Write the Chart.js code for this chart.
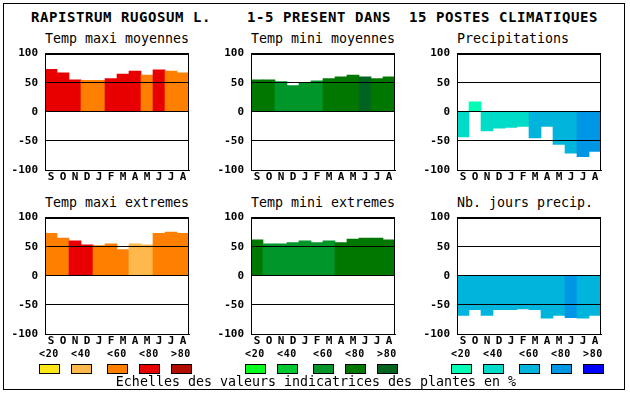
<!DOCTYPE html>
<html lang="fr">
  <head>
    <title>Rapistrum rugosum</title>
    <meta charset="UTF-8" />
    <style>
      body { margin: 0; background: #fff; width: 630px; height: 394px; position: relative; overflow: hidden; }
      .abs { position: absolute; white-space: pre; color: #000; font-family: "DejaVu Sans Mono", monospace; }
      .title { font-size: 14px; font-weight: bold; letter-spacing: 0.57px; line-height: 16px; }
      .ptitle { font-size: 13.3px; line-height: 16px; }
      .lab { font-size: 10px; font-weight: bold; letter-spacing: 0.7px; line-height: 12px; text-align: center; width: 30px; }
      .sw { position: absolute; width: 21px; height: 10px; border: 1px solid #000; box-sizing: border-box; }
      canvas { position: absolute; }
      #frame { position: absolute; left: 3px; top: 3px; width: 622px; height: 387px; border: 1px solid #000; box-sizing: border-box; }
    </style>
  </head>
  <body>
    <div id="frame"></div>
    <div class="abs title" style="left:31px;top:9px">RAPISTRUM RUGOSUM L.    1-5 PRESENT DANS  15 POSTES CLIMATIQUES</div>
    <div id="texts"></div>
    <canvas id="c1" width="193" height="148"></canvas>
    <canvas id="c2" width="193" height="148"></canvas>
    <canvas id="c3" width="193" height="148"></canvas>
    <canvas id="c4" width="193" height="148"></canvas>
    <canvas id="c5" width="193" height="148"></canvas>
    <canvas id="c6" width="193" height="148"></canvas>
    <div id="legend"></div>

    <script src="https://cdn.jsdelivr.net/npm/chart.js@4"></script>
    <script>
      // mois et valeurs
      var months = ["S", "O", "N", "D", "J", "F", "M", "A", "M", "J", "J", "A"];
      var yTicks = [-100, -50, 0, 50, 100];
      var classLabels = ["<20", "<40", "<60", "<80", ">80"];

      var maxMoyVals = [73, 67, 55, 54, 54, 57, 65, 70, 63, 72, 70, 67];
      var maxMoyCls = [3, 3, 3, 2, 2, 3, 3, 3, 2, 3, 2, 2];
      var minMoyVals = [55, 55, 52, 45, 49, 53, 57, 60, 63, 60, 57, 60];
      var minMoyCls = [3, 3, 2, 2, 2, 2, 3, 3, 3, 4, 3, 3];
      var precVals = [-43, 17, -33, -28, -27, -25, -45, -25, -56, -71, -77, -68];
      var precCls = [1, 0, 1, 1, 1, 1, 2, 2, 2, 2, 3, 3];
      var maxExtVals = [73, 65, 60, 53, 52, 55, 45, 55, 53, 73, 75, 73];
      var maxExtCls = [2, 2, 3, 3, 2, 2, 2, 1, 1, 2, 2, 2];
      var minExtVals = [62, 55, 55, 57, 60, 57, 60, 57, 63, 65, 65, 62];
      var minExtCls = [3, 2, 2, 2, 2, 2, 2, 3, 3, 3, 3, 3];
      var joursVals = [-68, -58, -68, -58, -58, -57, -58, -73, -68, -72, -73, -68];
      var joursCls = [2, 2, 2, 2, 2, 2, 2, 2, 2, 3, 2, 2];

      var tmaxPal = ["#ffe619", "#ffb84c", "#ff8000", "#e80000", "#b00c00"];
      var tminPal = ["#00ff1e", "#00c832", "#00962a", "#007800", "#006420"];
      var precPal = ["#00ffb4", "#00dcc8", "#00b4dc", "#0096e6", "#0000ff"];

      var panels = [
        { id: "c1", x: 45, y: 50, title: "Temp maxi moyennes", vals: maxMoyVals, cls: maxMoyCls, pal: tmaxPal },
        { id: "c2", x: 251, y: 50, title: "Temp mini moyennes", vals: minMoyVals, cls: minMoyCls, pal: tminPal },
        { id: "c3", x: 457, y: 50, title: "Precipitations", vals: precVals, cls: precCls, pal: precPal },
        { id: "c4", x: 45, y: 214, title: "Temp maxi extremes", vals: maxExtVals, cls: maxExtCls, pal: tmaxPal },
        { id: "c5", x: 251, y: 214, title: "Temp mini extremes", vals: minExtVals, cls: minExtCls, pal: tminPal },
        { id: "c6", x: 457, y: 214, title: "Nb. jours precip.", vals: joursVals, cls: joursCls, pal: precPal },
      ];

      // cadre autour de la zone du graphe
      var boxPlugin = {
        id: "box",
        afterDraw: function (chart) {
          var a = chart.chartArea;
          var ctx = chart.ctx;
          ctx.save();
          ctx.strokeStyle = "#000";
          ctx.lineWidth = 1;
          ctx.strokeRect(Math.round(a.left) + 0.5, Math.round(a.top) + 0.5, Math.round(a.right - a.left) - 1, Math.round(a.bottom - a.top));
          ctx.restore();
        },
      };

      var tickFont = { family: "DejaVu Sans Mono", size: 11, weight: "bold" };
      var texts = document.getElementById("texts");

      panels.forEach(function (p) {
        var cv = document.getElementById(p.id);
        cv.style.left = p.x - 45 + "px";
        cv.style.top = p.y - 10 + "px";

        var t = document.createElement("div");
        t.className = "abs ptitle";
        t.style.left = p.x + "px";
        t.style.top = p.y - 19 + "px";
        t.textContent = p.title;
        texts.appendChild(t);

        new Chart(cv, {
          type: "bar",
          data: {
            labels: months,
            datasets: [
              {
                data: p.vals,
                backgroundColor: p.cls.map(function (c) { return p.pal[c]; }),
                borderWidth: 0,
                barPercentage: 1,
                categoryPercentage: 1,
              },
            ],
          },
          options: {
            responsive: false,
            animation: false,
            devicePixelRatio: 1,
            layout: { padding: { top: 10, right: 4, left: 0, bottom: 0 } },
            plugins: { legend: { display: false }, tooltip: { enabled: false } },
            scales: {
              y: {
                min: -100,
                max: 100,
                afterFit: function (s) { s.width = 45; },
                afterBuildTicks: function (s) { s.ticks = yTicks.map(function (v) { return { value: v }; }); },
                ticks: { font: tickFont, color: "#000", padding: 7 },
                grid: { color: "#000", lineWidth: 1, drawTicks: false, z: 1 },
                border: { display: true, color: "#000", z: 1 },
              },
              x: {
                afterFit: function (s) { s.height = 18; },
                ticks: { font: tickFont, color: "#000", padding: 1, maxRotation: 0, autoSkip: false },
                grid: { display: false, drawTicks: false },
                border: { display: true, color: "#000", z: 1 },
              },
            },
          },
          plugins: [boxPlugin],
        });
      });

      // echelles en bas
      var legend = document.getElementById("legend");
      var groups = [
        { pal: tmaxPal, xs: [39, 71, 107, 139, 171] },
        { pal: tminPal, xs: [245, 277, 313, 345, 377] },
        { pal: precPal, xs: [451, 483, 519, 551, 583] },
      ];
      groups.forEach(function (g) {
        g.xs.forEach(function (x, i) {
          var l = document.createElement("div");
          l.className = "abs lab";
          l.style.left = x - 5 + "px";
          l.style.top = 348 + "px";
          l.textContent = classLabels[i];
          legend.appendChild(l);
          var s = document.createElement("div");
          s.className = "sw";
          s.style.left = x + "px";
          s.style.top = "364px";
          s.style.background = g.pal[i];
          legend.appendChild(s);
        });
      });
      var foot = document.createElement("div");
      foot.className = "abs ptitle";
      foot.style.left = "0px";
      foot.style.width = "632px";
      foot.style.textAlign = "center";
      foot.style.top = "374px";
      foot.textContent = "Echelles des valeurs indicatrices des plantes en %";
      legend.appendChild(foot);
    </script>
  </body>
</html>
